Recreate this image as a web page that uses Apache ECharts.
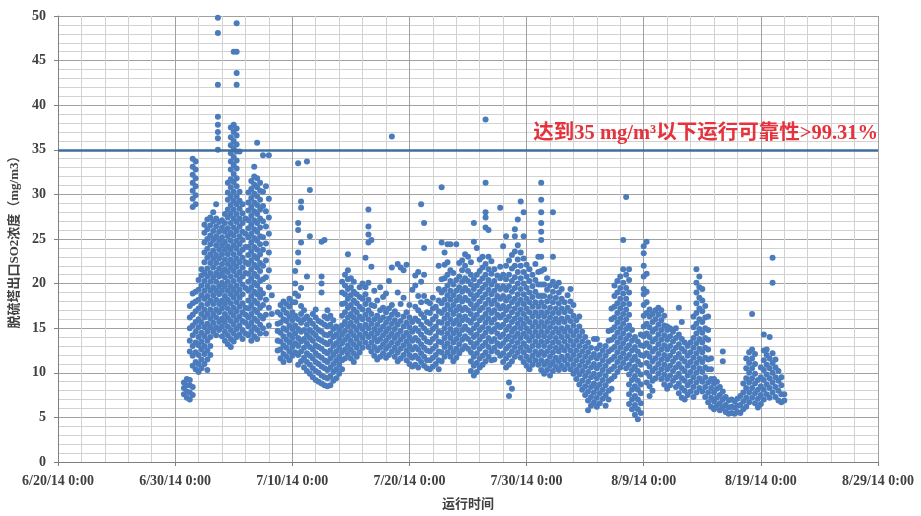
<!DOCTYPE html>
<html>
<head>
<meta charset="utf-8">
<script src="https://cdn.jsdelivr.net/npm/echarts@6/dist/echarts.min.js"></script>
<style>
  html, body { margin: 0; padding: 0; background: #fff; }
  #chart { width: 921px; height: 516px; }
</style>
</head>
<body>
<div id="chart"></div>
<script>
// Time axis: days elapsed since 6/20/14 0:00, labelled every 10 days
const xTickLabels = ['6/20/14 0:00', '6/30/14 0:00', '7/10/14 0:00', '7/20/14 0:00',
                     '7/30/14 0:00', '8/9/14 0:00', '8/19/14 0:00', '8/29/14 0:00'];
const limitValue = 35;          // emission limit, mg/m3
const reliabilityText = '达到35 mg/m³以下运行可靠性>99.31%';

// Outlet SO2 readings. Each row: [day, reading, reading, ...]
const startupReadings = [
  [10.75, 7.6, 8.3, 8.9],
  [11.0, 7.2, 7.9, 8.6, 9.3],
  [11.25, 7.0, 7.8, 8.6, 9.2, 12.4, 13.6, 15.0, 16.2, 17.5],
  [11.5, 7.5, 8.4, 10.8, 11.9, 13.0, 14.2, 15.3, 16.5, 17.8, 18.9, 28.6, 29.5, 30.4, 31.3, 32.2, 33.1, 34.0],
  [11.75, 10.4, 11.2, 12.3, 13.4, 14.6, 15.7, 16.9, 18.0, 19.1, 28.9, 29.9, 30.9, 31.8, 32.8, 33.7],
  [12.0, 10.1, 11.0, 12.0, 13.1, 14.0, 15.1, 16.0, 17.2, 18.2, 19.3, 20.4],
  [12.25, 10.5, 11.5, 12.6, 13.5, 14.5, 15.6, 16.6, 17.6, 18.7, 19.8, 20.9, 21.6],
  [12.5, 11.0, 12.1, 13.0, 14.1, 15.1, 16.2, 17.1, 18.3, 19.2, 20.3, 21.2, 22.4, 23.5, 24.6, 25.7, 26.6],
  [12.75, 10.3, 11.5, 12.5, 13.6, 14.6, 15.5, 16.6, 17.7, 18.6, 19.7, 20.8, 21.7, 22.9, 23.9, 25.0, 26.1, 27.2],
  [13.0, 12.0, 13.0, 14.0, 15.1, 16.1, 17.1, 18.1, 19.2, 20.2, 21.2, 22.3, 23.3, 24.4, 25.4, 26.5, 27.4],
  [13.25, 14.6, 15.6, 16.6, 17.7, 18.7, 19.6, 20.7, 21.8, 22.8, 23.7, 24.9, 25.9, 27.0, 28.0],
  [13.5, 14.2, 15.1, 16.2, 17.1, 18.2, 19.2, 20.2, 21.2, 22.3, 23.2, 24.3, 25.3, 26.4, 27.3, 28.9],
  [13.65, 35.0, 36.3, 37.0, 37.8, 38.7, 42.3, 48.1, 49.8],
  [13.75, 14.8, 15.7, 16.8, 17.7, 18.8, 19.7, 20.8, 21.7, 22.8, 23.8, 24.8, 25.8, 26.9],
  [14.0, 14.1, 15.2, 16.1, 17.2, 18.1, 19.2, 20.1, 21.2, 22.2, 23.3, 24.3, 25.2, 26.3, 27.1],
  [14.25, 13.6, 14.6, 15.7, 16.6, 17.7, 18.6, 19.7, 20.7, 21.6, 22.7, 23.8, 24.7, 25.8, 26.8, 27.8],
  [14.5, 13.2, 14.2, 15.2, 16.2, 17.2, 18.2, 19.2, 20.2, 21.3, 22.2, 23.3, 24.2, 25.3, 26.2, 27.4, 28.3, 29.4, 30.2, 31.3],
  [14.75, 12.9, 13.8, 14.8, 15.8, 16.8, 17.8, 18.8, 19.7, 20.8, 21.8, 22.7, 23.8, 24.8, 25.7, 26.8, 27.8, 28.8, 29.8, 30.8, 31.7, 32.8, 33.7, 34.6, 35.5, 36.4, 37.5],
  [15.0, 13.5, 14.4, 15.4, 16.4, 17.3, 18.4, 19.3, 20.3, 21.4, 22.3, 23.3, 24.3, 25.4, 26.3, 27.3, 28.3, 29.3, 30.3, 31.4, 32.3, 33.3, 34.2, 35.1, 36.0, 37.0, 37.8, 46.0],
  [15.25, 14.0, 14.9, 15.9, 16.9, 17.9, 18.9, 19.8, 20.9, 21.9, 22.8, 23.9, 24.8, 25.9, 26.9, 27.8, 28.9, 29.8, 30.9, 31.8, 32.9, 33.8, 34.8, 35.6, 36.6, 37.4, 42.3, 43.6, 46.0, 49.2],
  [15.5, 14.3, 15.3, 16.3, 17.4, 18.4, 19.3, 20.4, 21.3, 22.4, 23.4, 24.4, 25.3, 26.4, 27.3, 28.4, 29.3, 30.3, 34.8],
  [15.75, 13.8, 14.8, 15.8, 16.8, 17.8, 18.8, 19.9, 20.8, 21.8, 22.9, 23.8, 24.9, 25.8, 26.8, 27.9, 28.9],
  [16.0, 14.4, 15.6, 16.5, 17.3, 19.5, 21.2, 22.4, 24.1, 25.6, 27.3],
  [16.25, 14.2, 15.2, 16.2, 17.2, 18.1, 19.2, 20.2, 21.1, 22.2, 23.2, 24.1, 25.2, 26.2, 27.1, 28.2, 29.1, 30.2],
  [16.5, 13.6, 14.6, 15.6, 16.6, 17.6, 18.6, 19.6, 20.6, 21.6, 22.6, 23.6, 24.6, 25.6, 26.6, 27.6, 28.6, 29.6, 30.6, 31.5],
  [16.75, 14.1, 15.1, 16.1, 17.1, 18.1, 19.1, 20.1, 21.1, 22.1, 23.1, 24.1, 25.1, 26.1, 27.1, 28.1, 29.1, 30.1, 31.1, 32.0, 33.1],
  [17.0, 13.8, 14.8, 15.8, 16.8, 17.8, 18.8, 19.8, 20.8, 21.8, 22.8, 23.8, 24.8, 25.8, 26.8, 27.8, 28.8, 29.8, 30.8, 31.8, 35.8],
  [17.25, 14.4, 15.4, 16.4, 17.3, 18.4, 19.3, 20.3, 21.4, 22.3, 23.3, 24.4, 25.3, 26.3, 27.3, 28.3, 29.4, 30.4, 31.3],
  [17.5, 15.0, 16.1, 17.6, 18.9, 20.5, 22.0, 23.8, 25.2, 27.0, 28.7, 30.3, 34.4],
  [17.75, 14.4, 16.5, 18.2, 20.7, 22.6, 24.5, 26.4, 28.1, 30.9],
  [18.0, 15.3, 17.3, 19.6, 21.5, 23.5, 25.6, 27.4, 29.5, 34.4],
  [18.25, 16.6, 18.7]
];

const julyReadings = [
  [18.75, 12.5, 13.6, 14.7, 15.5, 16.8],
  [19.0, 11.6, 12.6, 13.5, 14.5, 15.6, 16.5, 17.6],
  [19.25, 11.2, 12.1, 13.1, 14.1, 15.0, 16.0, 17.1, 18.0],
  [19.5, 11.8, 12.8, 13.7, 14.8, 15.8, 16.7, 17.7],
  [19.75, 11.4, 12.4, 13.4, 14.3, 15.3, 16.3, 17.4, 18.3],
  [20.0, 11.9, 12.9, 13.9, 14.9, 15.9, 16.8, 17.9],
  [20.25, 12.3, 13.3, 14.4, 15.3, 16.4, 17.9, 18.9, 20.0, 21.4],
  [20.5, 10.9, 12.0, 13.0, 13.9, 14.9, 16.0, 18.6, 22.4, 23.5, 26.0, 26.8, 33.5],
  [20.75, 11.3, 12.4, 13.5, 14.6, 15.6, 16.6, 17.5, 19.5, 24.6, 28.5, 29.2],
  [21.0, 10.6, 11.7, 12.8, 13.8, 14.8, 16.0, 17.0],
  [21.25, 10.2, 11.2, 12.2, 13.3, 14.3, 15.4, 16.3, 20.8, 33.7],
  [21.5, 9.9, 10.9, 11.9, 12.9, 13.9, 14.8, 15.9, 25.3, 30.5],
  [21.75, 9.5, 10.5, 11.6, 12.6, 13.6, 14.5, 15.5, 16.6],
  [22.0, 9.2, 10.2, 11.2, 12.2, 13.1, 14.2, 15.1, 16.2, 17.1],
  [22.25, 9.0, 10.0, 11.0, 11.9, 12.9, 13.8, 14.8, 15.8],
  [22.5, 8.8, 9.7, 10.7, 11.7, 12.7, 13.6, 14.6, 15.6, 19.0, 20.0, 20.8, 24.7],
  [22.75, 8.6, 9.5, 10.5, 11.4, 12.4, 13.4, 14.3, 15.4, 16.3, 24.9],
  [23.0, 8.5, 9.4, 10.3, 11.2, 12.2, 13.2, 14.2, 15.2, 16.1, 17.0],
  [23.25, 8.6, 9.6, 10.6, 11.6, 12.5, 13.5, 14.4, 15.4, 16.4],
  [23.5, 9.1, 10.1, 11.0, 12.0, 13.0, 14.0, 14.9, 15.9],
  [23.75, 9.4, 10.4, 11.4, 12.4, 13.3, 14.3, 15.2],
  [24.0, 9.9, 10.9, 11.8, 12.8, 13.8, 14.8],
  [24.25, 10.4, 11.4, 12.3, 13.3, 14.3, 15.3, 16.4, 17.7, 19.0, 20.2],
  [24.5, 11.6, 12.6, 13.7, 14.7, 15.7, 16.8, 17.8, 18.8, 19.8, 21.0],
  [24.75, 12.1, 13.1, 14.1, 15.2, 16.2, 17.3, 18.3, 19.4, 20.5, 21.5, 23.3],
  [25.0, 11.6, 12.6, 13.6, 14.6, 15.6, 16.6, 17.6, 18.7, 19.6, 20.6],
  [25.25, 11.2, 12.2, 13.2, 14.2, 15.2, 16.2, 17.1, 18.1, 19.1, 20.2],
  [25.5, 11.8, 12.8, 13.8, 14.8, 15.8, 16.8, 17.8, 18.8],
  [25.75, 12.3, 13.3, 14.3, 15.3, 16.3, 17.4, 18.5, 19.6],
  [26.0, 12.8, 13.9, 14.9, 16.0, 17.1, 18.3, 20.0],
  [26.25, 13.4, 14.4, 15.4, 16.5, 17.7, 18.8, 19.6, 22.9],
  [26.5, 12.9, 14.0, 15.0, 16.0, 17.0, 18.2, 20.1, 24.6, 25.5, 26.4, 28.3],
  [26.75, 12.4, 13.4, 14.4, 15.5, 16.6, 17.6, 21.9, 24.9],
  [27.0, 11.9, 12.9, 13.9, 14.9, 16.0, 17.5, 19.2],
  [27.25, 11.5, 12.5, 13.5, 14.4, 15.4, 16.4, 18.1],
  [27.5, 11.8, 12.8, 13.8, 14.8, 15.9, 17.0, 19.6],
  [27.75, 12.2, 13.2, 14.2, 15.2, 16.2, 17.3, 18.5],
  [28.0, 11.7, 12.7, 13.6, 14.6, 15.6, 16.8, 18.9],
  [28.25, 12.0, 13.0, 14.0, 15.0, 16.1, 17.2, 20.3],
  [28.5, 12.4, 13.4, 14.4, 15.5, 16.5, 17.6, 21.8, 36.5],
  [28.75, 11.8, 12.8, 13.9, 14.9, 15.9, 16.9],
  [29.0, 11.3, 12.3, 13.3, 14.3, 15.4, 16.5, 19.0, 22.2],
  [29.25, 11.6, 12.7, 13.7, 14.7, 15.8, 17.7, 21.8],
  [29.5, 12.0, 13.1, 14.1, 15.2, 16.3, 18.4, 21.5],
  [29.75, 11.4, 12.5, 13.5, 14.5, 15.6, 16.8, 22.1],
  [30.0, 11.0, 12.0, 13.0, 14.0, 15.1, 16.2, 17.6],
  [30.25, 10.7, 11.7, 12.6, 13.6, 14.6, 15.7, 19.3],
  [30.5, 10.9, 11.9, 12.9, 13.9, 15.0, 16.1, 17.4, 19.8, 20.9],
  [30.75, 10.6, 11.6, 12.6, 13.6, 14.7, 15.8, 17.0, 18.6, 21.3],
  [31.0, 11.2, 12.2, 13.2, 14.3, 15.4, 16.6, 17.9, 20.2, 28.9],
  [31.25, 10.8, 11.8, 12.8, 13.9, 15.0, 16.2, 18.6, 21.0, 24.0, 26.8],
  [31.5, 10.5, 11.4, 12.5, 13.5, 14.6, 15.7, 16.8, 18.0],
  [31.75, 10.4, 11.4, 12.4, 13.4, 14.5, 15.5, 16.7, 17.8],
  [32.0, 10.7, 11.7, 12.7, 13.8, 14.9, 16.0, 17.2, 18.4],
  [32.25, 11.0, 12.0, 13.0, 14.1, 15.2, 16.3, 17.4],
  [32.5, 10.4, 11.4, 12.4, 13.5, 14.6, 15.7, 16.9, 18.1, 19.4, 22.0],
  [32.75, 11.3, 12.3, 13.4, 14.5, 15.6, 16.7, 17.8, 19.0, 20.5, 24.6, 30.8],
  [33.0, 11.8, 12.9, 13.9, 15.0, 16.1, 17.1, 18.2, 19.3, 20.6, 22.1, 23.5],
  [33.25, 12.3, 13.3, 14.4, 15.5, 16.5, 17.6, 18.7, 19.8, 21.0, 22.4, 24.4],
  [33.5, 11.8, 12.8, 13.9, 14.9, 16.0, 17.1, 18.2, 19.2, 20.3, 21.5, 24.4],
  [33.75, 11.3, 12.3, 13.4, 14.4, 15.5, 16.6, 17.6, 18.7, 19.9, 21.2],
  [34.0, 11.7, 12.7, 13.8, 14.8, 15.9, 17.0, 18.1, 19.2, 20.4, 24.4],
  [34.25, 12.2, 13.2, 14.3, 15.4, 16.4, 17.4, 18.5, 19.6, 20.8, 22.3],
  [34.5, 12.6, 13.7, 14.8, 15.9, 17.0, 18.0, 19.1, 20.2, 21.5, 22.6],
  [34.75, 13.0, 14.1, 15.2, 16.3, 17.3, 18.4, 19.5, 20.6, 22.0, 23.3],
  [35.0, 12.7, 13.8, 14.8, 15.9, 17.0, 18.1, 19.2, 20.3, 21.4, 23.0],
  [35.25, 10.2, 11.3, 12.3, 13.4, 14.5, 15.6, 16.6, 17.7, 18.8, 19.9, 21.0, 22.4],
  [35.5, 9.7, 10.8, 11.8, 12.9, 14.0, 15.0, 16.1, 17.2, 18.3, 19.4, 20.5, 24.7, 26.8],
  [35.75, 10.1, 11.1, 12.2, 13.3, 14.3, 15.4, 16.5, 17.6, 18.7, 19.8, 21.0, 24.0]
];

const lateJulyReadings = [
  [36.0, 10.6, 11.6, 12.7, 13.7, 14.8, 15.9, 17.0, 18.0, 19.1, 20.2, 21.4, 22.7],
  [36.25, 10.9, 11.9, 13.0, 14.1, 15.1, 16.2, 17.3, 18.4, 19.5, 20.6, 21.8, 23.0],
  [36.5, 11.3, 12.3, 13.4, 14.5, 15.6, 16.6, 17.7, 18.8, 19.9, 21.0, 22.2, 26.3, 27.4, 28.0, 31.3, 38.4],
  [36.75, 11.8, 12.9, 13.9, 15.0, 16.1, 17.1, 18.2, 19.3, 20.4, 21.6, 23.0, 26.0],
  [37.0, 11.4, 12.4, 13.5, 14.6, 15.6, 16.7, 17.7, 18.8, 19.9, 21.1, 22.5],
  [37.25, 11.5, 12.8, 13.8, 14.9, 16.0, 17.0, 18.1, 19.2, 20.3, 21.6],
  [37.5, 12.3, 13.3, 14.4, 15.4, 16.5, 17.6, 18.6, 19.7, 20.9],
  [37.75, 11.9, 13.0, 14.0, 15.1, 16.2, 17.2, 18.3, 19.4, 20.6, 21.9, 28.5],
  [38.0, 11.2, 12.2, 13.3, 14.3, 15.4, 16.5, 17.5, 18.6, 19.7, 21.0, 24.2],
  [38.25, 10.6, 11.6, 12.7, 13.7, 14.8, 15.9, 17.0, 18.1, 19.3, 20.5, 22.0, 25.3],
  [38.5, 7.4, 8.9, 10.9, 12.0, 13.0, 14.1, 15.2, 16.3, 17.4, 18.5, 19.7, 21.0, 22.6],
  [38.75, 8.2, 11.3, 12.4, 13.5, 14.6, 15.7, 16.8, 17.9, 19.1, 20.3, 21.7, 23.2],
  [39.0, 11.8, 12.9, 14.0, 15.0, 16.1, 17.2, 18.3, 19.5, 20.7, 22.0, 23.6, 25.3, 26.1],
  [39.25, 12.3, 13.4, 14.4, 15.5, 16.6, 17.7, 18.8, 20.0, 21.3, 22.7, 24.3, 27.2],
  [39.5, 11.7, 12.8, 13.9, 15.0, 16.0, 17.1, 18.2, 19.4, 20.6, 22.0, 23.5, 29.2],
  [39.75, 11.2, 12.3, 13.3, 14.4, 15.5, 16.6, 17.7, 18.8, 20.0, 21.3, 22.8, 25.3, 28.0],
  [40.0, 10.8, 11.8, 12.9, 14.0, 15.0, 16.1, 17.2, 18.3, 19.5, 20.8, 22.1],
  [40.25, 10.4, 11.4, 12.5, 13.6, 14.6, 15.7, 16.8, 17.9, 19.0, 20.3, 21.6],
  [40.5, 10.9, 11.9, 13.0, 14.1, 15.2, 16.3, 17.4, 18.5, 19.7, 21.0],
  [40.75, 11.4, 12.4, 13.5, 14.6, 15.7, 16.8, 17.9, 19.1, 20.4, 22.2],
  [41.0, 10.9, 12.0, 13.0, 14.1, 15.2, 16.3, 17.4, 18.6, 19.9, 21.3, 23.0],
  [41.25, 10.3, 11.4, 12.4, 13.5, 14.6, 15.7, 16.8, 17.9, 18.6, 19.9, 21.4, 23.0, 24.9, 25.8, 26.8, 28.0, 29.4, 31.3],
  [41.5, 9.9, 10.9, 12.0, 13.0, 14.1, 15.2, 16.3, 17.4, 18.6, 19.9, 21.6],
  [41.75, 10.3, 11.3, 12.4, 13.5, 14.6, 15.7, 16.8, 18.0, 19.3, 20.6],
  [42.0, 9.7, 10.8, 11.8, 12.9, 14.0, 15.1, 16.2, 17.3, 18.5, 19.8],
  [42.25, 10.2, 11.2, 12.3, 13.4, 14.5, 15.6, 16.7, 17.9, 19.1, 20.2, 23.0, 28.0],
  [42.5, 10.7, 11.7, 12.8, 13.9, 15.0, 16.1, 17.2, 18.4, 19.7],
  [42.75, 10.3, 11.3, 12.4, 13.4, 14.5, 15.6, 16.7, 17.8, 19.0, 20.1],
  [43.0, 10.8, 11.8, 12.9, 14.0, 15.0, 16.1, 17.2, 18.3, 19.4],
  [43.25, 10.4, 11.4, 12.5, 13.5, 14.6, 15.7, 16.8, 17.9],
  [43.5, 10.9, 11.9, 13.0, 14.1, 15.1, 16.2, 17.3, 18.7],
  [43.75, 10.4, 11.5, 12.5, 13.6, 14.7, 15.8, 16.9, 18.0, 19.4],
  [44.0, 9.9, 10.9, 12.0, 13.1, 14.2, 15.3, 16.4, 17.6],
  [44.25, 9.3, 10.3, 11.4, 12.5, 13.6, 14.7, 15.9],
  [44.5, 8.7, 9.8, 10.8, 11.9, 13.0, 14.1, 15.2, 16.3],
  [44.75, 8.1, 9.1, 10.2, 11.3, 12.4, 13.5, 14.6],
  [45.0, 7.5, 8.5, 9.6, 10.7, 11.8, 12.9, 14.0],
  [45.25, 5.8, 6.9, 7.9, 9.0, 10.1, 11.2, 12.3, 13.4],
  [45.5, 6.3, 7.3, 8.4, 9.5, 10.6, 11.7, 12.8],
  [45.75, 6.7, 7.8, 8.8, 9.9, 11.0, 12.1, 13.8],
  [46.0, 6.2, 7.2, 8.3, 9.4, 10.5, 11.6, 12.7, 13.8],
  [46.25, 6.6, 7.7, 8.7, 9.8, 10.9, 12.0, 13.1],
  [46.5, 7.1, 8.1, 9.2, 10.3, 11.4, 12.5],
  [46.75, 6.3, 7.5, 8.6, 9.7, 10.8, 11.9, 13.0],
  [47.0, 7.0, 8.0, 9.1, 10.2, 11.3, 12.4, 13.6, 14.7],
  [47.25, 8.2, 9.3, 10.4, 11.5, 12.6, 13.7, 14.8, 16.0, 17.2],
  [47.5, 9.6, 10.7, 11.8, 12.9, 14.0, 15.1, 16.2, 17.4, 18.6, 19.8],
  [47.75, 10.1, 11.2, 12.3, 13.4, 14.5, 15.6, 16.7, 17.8, 19.0, 20.3],
  [48.0, 10.6, 11.7, 12.8, 13.9, 15.0, 16.1, 17.2, 18.3, 19.5, 20.8],
  [48.25, 11.1, 12.2, 13.3, 14.4, 15.5, 16.6, 17.7, 18.9, 20.1, 21.6, 24.9],
  [48.5, 10.5, 11.6, 12.7, 13.8, 14.9, 16.0, 17.1, 18.3, 19.5, 21.0, 29.7]
];

const augustReadings = [
  [48.75, 6.5, 7.6, 8.7, 9.8, 10.9, 12.0, 13.1, 14.2, 15.3, 16.5, 17.7, 19.0, 20.4, 21.6],
  [49.0, 5.9, 7.0, 8.1, 9.2, 10.3, 11.4, 12.5, 13.6, 14.8],
  [49.25, 5.3, 6.4, 7.4, 8.5, 9.6, 10.7, 11.8, 12.9, 14.0],
  [49.5, 4.8, 5.9, 7.0, 8.1, 9.1, 10.2, 11.3, 12.4, 13.5],
  [49.75, 5.5, 6.6, 7.7, 8.7, 9.8, 10.9, 12.0, 13.1, 14.3],
  [50.0, 11.9, 13.0, 14.1, 15.2, 16.4, 17.6, 18.8, 19.4, 20.8, 22.0, 23.4, 24.2],
  [50.25, 8.9, 10.0, 11.1, 12.2, 13.3, 14.4, 15.5, 16.7, 17.9, 19.1, 21.1, 24.7],
  [50.5, 7.4, 8.5, 9.6, 10.7, 11.8, 12.9, 14.0, 15.1, 16.3, 17.1],
  [50.75, 8.0, 9.1, 10.2, 11.3, 12.4, 13.5, 14.6, 15.7, 16.6],
  [51.0, 9.4, 10.5, 11.6, 12.7, 13.8, 14.9, 16.0, 17.0],
  [51.25, 9.9, 11.0, 12.1, 13.2, 14.3, 15.4, 16.5, 17.3],
  [51.5, 9.3, 10.4, 11.5, 12.6, 13.7, 14.8, 15.9, 17.0],
  [51.75, 8.7, 9.8, 10.9, 12.0, 13.1, 14.2, 15.3, 16.4],
  [52.0, 8.2, 9.3, 10.4, 11.5, 12.6, 13.7, 14.8, 15.2],
  [52.25, 8.6, 9.7, 10.8, 11.9, 13.0, 14.1, 15.0],
  [52.5, 9.1, 10.2, 11.3, 12.4, 13.5, 14.6],
  [52.75, 8.4, 9.5, 10.6, 11.7, 12.8, 13.9, 15.0],
  [53.0, 7.7, 8.8, 9.9, 11.0, 12.1, 13.2, 14.3, 17.3],
  [53.25, 7.2, 8.3, 9.4, 10.5, 11.6, 12.7, 13.8, 15.7],
  [53.5, 7.0, 8.0, 9.1, 10.2, 11.3, 12.4, 13.4],
  [53.75, 7.5, 8.6, 9.7, 10.8, 11.9, 13.0],
  [54.0, 7.9, 9.0, 10.1, 11.2, 12.3, 13.4],
  [54.25, 7.3, 8.4, 9.5, 10.6, 11.7, 12.8, 13.9, 15.1, 16.3],
  [54.5, 7.8, 8.9, 10.0, 11.1, 12.2, 13.3, 14.4, 15.5, 16.7, 17.8, 19.0, 20.1, 21.6],
  [54.75, 8.3, 9.4, 10.5, 11.6, 12.7, 13.8, 14.9, 16.0, 17.2, 18.4, 19.6, 20.8],
  [55.0, 7.9, 9.0, 10.1, 11.2, 12.3, 13.4, 14.5, 15.7, 16.9, 18.1, 19.4],
  [55.25, 7.3, 8.4, 9.5, 10.6, 11.7, 12.8, 13.9, 15.0, 16.2, 17.5],
  [55.5, 6.7, 7.8, 8.9, 10.4, 11.5, 12.6, 13.7, 14.8, 16.3],
  [55.75, 6.2, 7.2, 8.3, 9.3, 10.4, 11.6],
  [56.0, 5.9, 6.8, 7.8, 8.8, 9.3],
  [56.25, 6.3, 7.2, 8.2, 9.0],
  [56.5, 5.8, 6.6, 7.5, 8.4],
  [56.75, 6.1, 7.0, 7.9, 11.3, 12.4],
  [57.0, 5.6, 6.4, 7.3],
  [57.25, 5.4, 6.1, 6.9],
  [57.5, 5.5, 6.2, 7.0],
  [57.75, 5.4, 6.1, 6.8],
  [58.0, 5.6, 6.3, 7.1],
  [58.25, 5.5, 6.4, 7.4],
  [58.5, 5.9, 6.8, 7.8, 8.8],
  [58.75, 6.2, 7.2, 8.3, 9.4, 10.5, 11.6],
  [59.0, 6.7, 7.8, 8.9, 10.0, 11.1, 12.3],
  [59.25, 7.2, 8.3, 9.4, 10.5, 11.6, 12.6, 16.6],
  [59.5, 6.6, 7.7, 8.8, 9.9, 11.0, 12.1],
  [59.75, 6.1, 7.1, 8.1, 9.2],
  [60.0, 6.5, 7.5, 8.5, 9.5, 10.6],
  [60.25, 7.0, 8.1, 9.2, 10.3, 11.4, 12.5, 14.3],
  [60.5, 7.6, 8.7, 9.8, 10.9, 12.0, 12.6],
  [60.75, 7.2, 8.3, 9.4, 10.5, 11.6, 14.0],
  [61.0, 7.8, 8.9, 10.0, 11.1, 12.2, 20.1, 22.9],
  [61.25, 7.3, 8.4, 9.5, 10.6, 11.5],
  [61.5, 6.9, 8.0, 9.1, 10.2],
  [61.75, 6.7, 7.6, 8.6, 9.5],
  [62.0, 6.9, 7.6]
];

// Flatten the rows into [day, value] pairs for the scatter series
function toPoints(rows) {
  const pts = [];
  rows.forEach(function (row) {
    for (let i = 1; i < row.length; i++) pts.push([row[0], row[i]]);
  });
  return pts;
}
const points = [].concat(
  toPoints(startupReadings),
  toPoints(julyReadings),
  toPoints(lateJulyReadings),
  toPoints(augustReadings)
);

const labelFont = '"Liberation Serif", "Noto Sans CJK SC", serif';

const chart = echarts.init(document.getElementById('chart'), null, { renderer: 'canvas' });
chart.setOption({
  animation: false,
  backgroundColor: '#ffffff',
  grid: { left: 58, right: 43, top: 16, bottom: 53, containLabel: false },
  xAxis: {
    type: 'value',
    min: 0,
    max: 70,
    interval: 10,
    name: '运行时间',
    nameLocation: 'middle',
    nameGap: 36,
    nameTextStyle: { fontFamily: labelFont, fontSize: 13, fontWeight: 'bold', color: '#404040' },
    axisLine: { show: true, lineStyle: { color: '#7f7f7f', width: 1 } },
    axisTick: { show: true, inside: false, length: 4, lineStyle: { color: '#7f7f7f' } },
    minorTick: { show: false, splitNumber: 5 },
    axisLabel: {
      margin: 12,
      fontFamily: labelFont,
      fontSize: 14,
      fontWeight: 'bold',
      color: '#404040',
      formatter: function (v) { return xTickLabels[Math.round(v / 10)]; }
    },
    splitLine: { show: true, lineStyle: { color: '#a0a0a0', width: 1 } },
    minorSplitLine: { show: true, lineStyle: { color: '#d2d2d2', width: 1 } }
  },
  yAxis: {
    type: 'value',
    min: 0,
    max: 50,
    interval: 5,
    name: '脱硫塔出口SO2浓度（mg/m3）',
    nameLocation: 'middle',
    nameGap: 36,
    nameTextStyle: { fontFamily: labelFont, fontSize: 13, fontWeight: 'bold', color: '#404040' },
    axisLine: { show: true, lineStyle: { color: '#7f7f7f', width: 1 } },
    axisTick: { show: true, inside: false, length: 4, lineStyle: { color: '#7f7f7f' } },
    minorTick: { show: false, splitNumber: 5 },
    axisLabel: {
      margin: 12,
      fontFamily: labelFont,
      fontSize: 14,
      fontWeight: 'bold',
      color: '#404040'
    },
    splitLine: { show: true, lineStyle: { color: '#a0a0a0', width: 1 } },
    minorSplitLine: { show: true, lineStyle: { color: '#d2d2d2', width: 1 } }
  },
  series: [{
    type: 'scatter',
    data: points,
    symbol: 'circle',
    symbolSize: 6,
    itemStyle: { color: '#4A7BBD', opacity: 1 },
    silent: true,
    large: false,
    markLine: {
      silent: true,
      symbol: 'none',
      lineStyle: { color: '#3D6E9E', width: 2.5, type: 'solid' },
      data: [{ yAxis: limitValue }],
      label: {
        show: true,
        position: 'insideEndTop',
        distance: [0, 6],
        formatter: reliabilityText,
        fontFamily: labelFont,
        fontSize: 20.5,
        fontWeight: 'bold',
        color: '#E5323C'
      }
    }
  }]
});
</script>
</body>
</html>
